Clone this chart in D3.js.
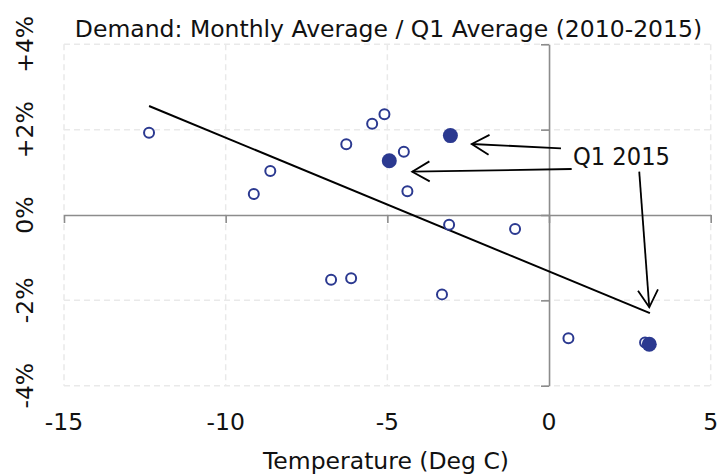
<!DOCTYPE html>
<html><head><meta charset="utf-8">
<script src="https://cdn.jsdelivr.net/npm/d3@7"></script>
<style>body{margin:0;background:#fff}svg{display:block}text{font-family:"DejaVu Sans",sans-serif;fill:#111}</style>
</head><body>
<script>
// Data
const temps   = [-12.37,-9.13,-8.62,-6.27,-5.47,-5.09,-4.49,-4.38,-3.09,-1.05,-6.74,-6.12,-3.31,0.60,2.97,-4.94,-3.05,3.10];
const demand  = [1.93,0.49,1.03,1.66,2.14,2.36,1.48,0.555,-0.23,-0.33,-1.52,-1.48,-1.86,-2.89,-2.99,1.27,1.86,-3.03];
const isQ1_2015 = [0,0,0,0,0,0,0,0,0,0,0,0,0,0,0,1,1,1];
const fitX = [-12.37, 3.12];
const fitY = [2.554, -2.30];
const xTicks = [-15,-10,-5,0,5];
const xTickLabels = ["-15","-10","-5","0","5"];
const yTicks = [4,2,0,-2,-4];
const yTickLabels = ["+4%","+2%","0%","-2%","-4%"];
const arrowFrom = [[0.37,1.563],[0.70,1.078],[2.79,1.015]];
const arrowTo   = [[-2.39,1.664],[-4.23,1.015],[3.10,-2.163]];
const annotText = "Q1 2015";
const annotPos = [0.74,1.18];
const titleText = "Demand: Monthly Average / Q1 Average (2010-2015)";
const xTitle = "Temperature (Deg C)";

const W=719,H=476;
const svg=d3.select("body").append("svg").attr("width",W).attr("height",H);
const x=d3.scaleLinear().domain([-15,5]).range([64,710.7]);
const y=d3.scaleLinear().domain([-4,4]).range([385.7,44.3]);

// grid
const grid=svg.append("g").attr("stroke","#e9e9e9").attr("stroke-width",1.5).attr("stroke-dasharray","6,4");
xTicks.filter(d=>d!==0).forEach(d=>grid.append("line").attr("x1",x(d)).attr("x2",x(d)).attr("y1",y(4)).attr("y2",y(-4)));
yTicks.filter(d=>d!==0).forEach(d=>grid.append("line").attr("y1",y(d)).attr("y2",y(d)).attr("x1",x(-15)).attr("x2",x(5)));

// axes through origin
const xAxis=d3.axisBottom(x).tickValues(xTicks).tickFormat("").tickSize(8).tickSizeOuter(0);
const gx=svg.append("g").attr("transform",`translate(0,${y(0)})`).call(xAxis);
const yAxis=d3.axisLeft(y).tickValues(yTicks).tickFormat("").tickSize(8).tickSizeOuter(0);
const gy=svg.append("g").attr("transform",`translate(${x(0)},0)`).call(yAxis);
[gx,gy].forEach(g=>{g.selectAll("path,line").attr("stroke","#8c8c8c").attr("stroke-width",1.6);});

// tick labels
svg.append("g").selectAll("text").data(xTicks).join("text")
  .attr("x",d=>x(d)).attr("y",430).attr("text-anchor","middle").attr("font-size",23.5)
  .text((d,i)=>xTickLabels[i]);
svg.append("g").selectAll("text").data(yTicks).join("text")
  .attr("transform",d=>`translate(33,${y(d)}) rotate(-90)`).attr("text-anchor","middle").attr("font-size",23.5)
  .text((d,i)=>yTickLabels[i]);

function fit(sel,w){const n=sel.node();const l=n.getComputedTextLength();if(Math.abs(l-w)>2)sel.attr("textLength",w).attr("lengthAdjust","spacingAndGlyphs");}
// title
fit(svg.append("text").attr("x",388.5).attr("y",36.7).attr("text-anchor","middle").attr("font-size",23.5).text(titleText),627);
fit(svg.append("text").attr("x",386).attr("y",469).attr("text-anchor","middle").attr("font-size",23.5).text(xTitle),248);

// fit line
svg.append("line").attr("x1",x(fitX[0])).attr("y1",y(fitY[0])).attr("x2",x(fitX[1])).attr("y2",y(fitY[1]))
  .attr("stroke","#000").attr("stroke-width",2);

// points
const pts=temps.map((t,i)=>({t,d:demand[i],q:isQ1_2015[i]}));
svg.append("g").selectAll("circle").data(pts.filter(p=>!p.q)).join("circle")
  .attr("cx",p=>x(p.t)).attr("cy",p=>y(p.d)).attr("r",5)
  .attr("fill","#fff").attr("stroke","#2b3990").attr("stroke-width",2);
svg.append("g").selectAll("circle").data(pts.filter(p=>p.q)).join("circle")
  .attr("cx",p=>x(p.t)).attr("cy",p=>y(p.d)).attr("r",7.5).attr("fill","#2b3990");

// arrows
const ag=svg.append("g").attr("stroke","#000").attr("stroke-width",1.8).attr("fill","none");
arrowFrom.forEach((f,i)=>{
  const x1=x(f[0]),y1=y(f[1]),x2=x(arrowTo[i][0]),y2=y(arrowTo[i][1]);
  ag.append("line").attr("x1",x1).attr("y1",y1).attr("x2",x2).attr("y2",y2);
  const a=Math.atan2(y1-y2,x1-x2),L=20,h=Math.PI/6;
  ag.append("path").attr("d",`M${x2+L*Math.cos(a+h)},${y2+L*Math.sin(a+h)}L${x2},${y2}L${x2+L*Math.cos(a-h)},${y2+L*Math.sin(a-h)}`);
});
fit(svg.append("text").attr("x",x(annotPos[0])).attr("y",y(annotPos[1])).attr("font-size",24).text(annotText),97);
</script>
</body></html>
